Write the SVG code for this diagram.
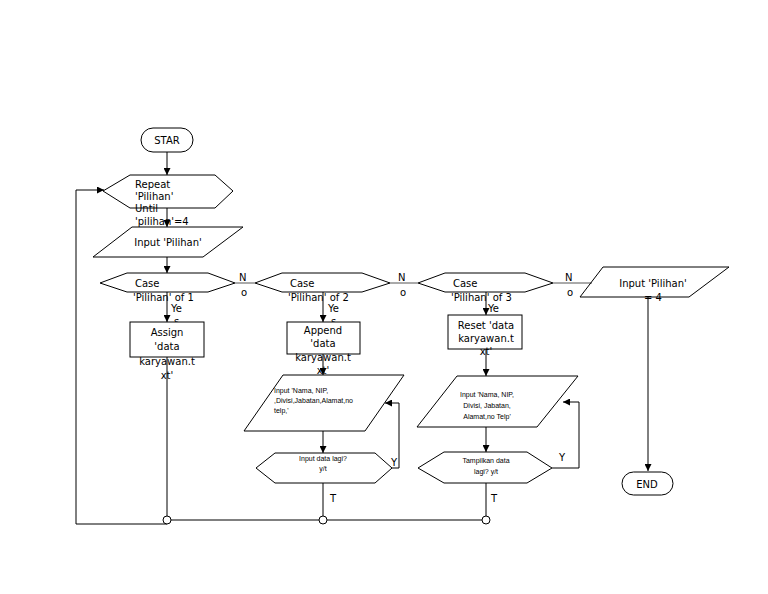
<svg xmlns="http://www.w3.org/2000/svg" width="768" height="594" viewBox="0 0 768 594">
<defs>
<marker id="ah" viewBox="0 0 10 10" refX="10" refY="5" markerWidth="7" markerHeight="7" markerUnits="userSpaceOnUse" orient="auto">
<path d="M0,0 L10,5 L0,10 z" fill="#000"/>
</marker>
<style>
.s{fill:#fff;stroke:#000;stroke-width:1}
.c{fill:none;stroke:#000;stroke-width:1}
.g{fill:none;stroke:#555;stroke-width:1}
.t{font-family:"DejaVu Sans",sans-serif;font-size:10px;fill:#000}
.m{text-anchor:middle}
.sm{font-family:"Liberation Sans",sans-serif;font-size:7px;fill:#000}
.j{fill:#fff;stroke:#000;stroke-width:1}
</style>
</defs>
<rect width="768" height="594" fill="#fff"/>
<g id="connectors">
<path class="c" d="M167,152 V175" marker-end="url(#ah)"/>
<path class="c" d="M167,208 V227" marker-end="url(#ah)"/>
<path class="c" d="M167,257 V273" marker-end="url(#ah)"/>
<path class="c" d="M167,292 V322" marker-end="url(#ah)"/>
<path class="c" d="M167,357 V516"/>
<path class="c" d="M167,524 H76 V190 H104" marker-end="url(#ah)"/>
<path class="g" d="M235,283 H255"/>
<path class="g" d="M390,283 H418"/>
<path class="g" d="M553,283 H592"/>
<path class="c" d="M323,292 V322" marker-end="url(#ah)"/>
<path class="c" d="M323,354 V375" marker-end="url(#ah)"/>
<path class="c" d="M323,431 V453" marker-end="url(#ah)"/>
<path class="c" d="M392,468 H399 V403 H385" marker-end="url(#ah)"/>
<path class="c" d="M323,483 V516"/>
<path class="c" d="M486,292 V315" marker-end="url(#ah)"/>
<path class="c" d="M486,349 V376" marker-end="url(#ah)"/>
<path class="c" d="M486,427 V452" stroke-width="1.6" marker-end="url(#ah)"/>
<path class="c" d="M552,468 H579 V402 H563" marker-end="url(#ah)"/>
<path class="c" d="M486,483 V516"/>
<path class="c" d="M648,297 V471" marker-end="url(#ah)"/>
<path class="c" d="M171,520 H319 M327,520 H482"/>
<text class="t" x="239" y="281">N</text>
<text class="t" x="241" y="296">o</text>
<text class="t" x="398" y="281">N</text>
<text class="t" x="400" y="296">o</text>
<text class="t" x="565" y="281">N</text>
<text class="t" x="567" y="296">o</text>
<text class="t" x="171" y="312">Ye</text>
<text class="t" x="174" y="325">s</text>
<text class="t" x="328" y="312">Ye</text>
<text class="t" x="331" y="325">s</text>
<text class="t" x="488" y="312">Ye</text>
<text class="t" x="391" y="466">Y</text>
<text class="t" x="559" y="461">Y</text>
<text class="t" x="330" y="502">T</text>
<text class="t" x="491" y="502">T</text>
</g>
<g id="j1"><circle class="j" cx="167" cy="520" r="4"/></g>
<g id="j2"><circle class="j" cx="323" cy="520" r="4"/></g>
<g id="j3"><circle class="j" cx="486" cy="520" r="4"/></g>
<g id="start">
<rect class="s" x="141" y="128" width="52" height="24" rx="12"/>
<text class="t m" x="167" y="144">STAR</text>
</g>
<g id="repeat">
<polygon class="s" fill-opacity="0" points="103,191 130,175 215,175 233,191 215,208 130,208"/>
<text class="t" x="135" y="188">Repeat</text>
<text class="t" x="135" y="200">'Pilihan'</text>
<text class="t" x="135" y="212">Until</text>
<text class="t" x="135" y="225">'pilihan'=4</text>
</g>
<g id="input1">
<polygon class="s" fill-opacity="0" points="132,227 243,227 203,257 93,257"/>
<text class="t m" x="168" y="246">Input 'Pilihan'</text>
</g>
<g id="case1">
<polygon class="s" fill-opacity="0" points="100,283 127,273 208,273 235,283 208,292 127,292"/>
<text class="t" x="135" y="287">Case</text>
<text class="t" x="133" y="301">'Pilihan' of 1</text>
</g>
<g id="assign">
<rect class="s" x="130" y="322" width="74" height="35"/>
<text class="t m" x="167" y="336">Assign</text>
<text class="t m" x="167" y="350">'data</text>
<text class="t m" x="167" y="365">karyawan.t</text>
<text class="t m" x="167" y="379">xt'</text>
</g>
<g id="case2">
<polygon class="s" fill-opacity="0" points="255,283 282,273 362,273 390,283 362,292 282,292"/>
<text class="t" x="290" y="287">Case</text>
<text class="t" x="288" y="301">'Pilihan' of 2</text>
</g>
<g id="append">
<rect class="s" x="287" y="322" width="73" height="32"/>
<text class="t m" x="323" y="334">Append</text>
<text class="t m" x="323" y="347">'data</text>
<text class="t m" x="323" y="361">karyawan.t</text>
<text class="t m" x="323" y="374">xt'</text>
</g>
<g id="input2">
<polygon class="s" fill-opacity="0" points="283,375 404,375 365,431 244,431"/>
<text class="sm" x="274" y="393">Input 'Nama, NIP,</text>
<text class="sm" x="274" y="403">,Divisi,Jabatan,Alamat,no</text>
<text class="sm" x="274" y="413">telp,'</text>
</g>
<g id="decision2">
<polygon class="s" fill-opacity="0" points="256,468 275,453 375,453 392,468 375,483 275,483"/>
<text class="sm m" x="323" y="461">Input data lagi?</text>
<text class="sm m" x="323" y="471">y/t</text>
</g>
<g id="case3">
<polygon class="s" fill-opacity="0" points="418,283 445,273 525,273 553,283 525,292 445,292"/>
<text class="t" x="453" y="287">Case</text>
<text class="t" x="451" y="301">'Pilihan' of 3</text>
</g>
<g id="reset">
<rect class="s" x="448" y="315" width="74" height="34"/>
<text class="t m" x="486" y="329">Reset 'data</text>
<text class="t m" x="486" y="342">karyawan.t</text>
<text class="t m" x="486" y="355">xt'</text>
</g>
<g id="input3">
<polygon class="s" fill-opacity="0" points="457,376 578,376 537,427 417,427"/>
<text class="sm m" x="487" y="397">Input 'Nama, NIP,</text>
<text class="sm m" x="487" y="408">Divisi, Jabatan,</text>
<text class="sm m" x="487" y="419">Alamat,no Telp'</text>
</g>
<g id="decision3">
<polygon class="s" fill-opacity="0" points="418,468 444,452 527,452 552,468 527,483 444,483"/>
<text class="sm m" x="486" y="463">Tampilkan data</text>
<text class="sm m" x="486" y="474">lagi? y/t</text>
</g>
<g id="input4">
<polygon class="s" fill-opacity="0" points="603,267 729,267 689,297 580,297"/>
<text class="t m" x="653" y="287">Input 'Pilihan'</text>
<text class="t m" x="653" y="301">= 4</text>
</g>
<g id="end">
<rect class="s" x="622" y="472" width="51" height="23" rx="11.5"/>
<text class="t m" x="647" y="488">END</text>
</g>
</svg>
